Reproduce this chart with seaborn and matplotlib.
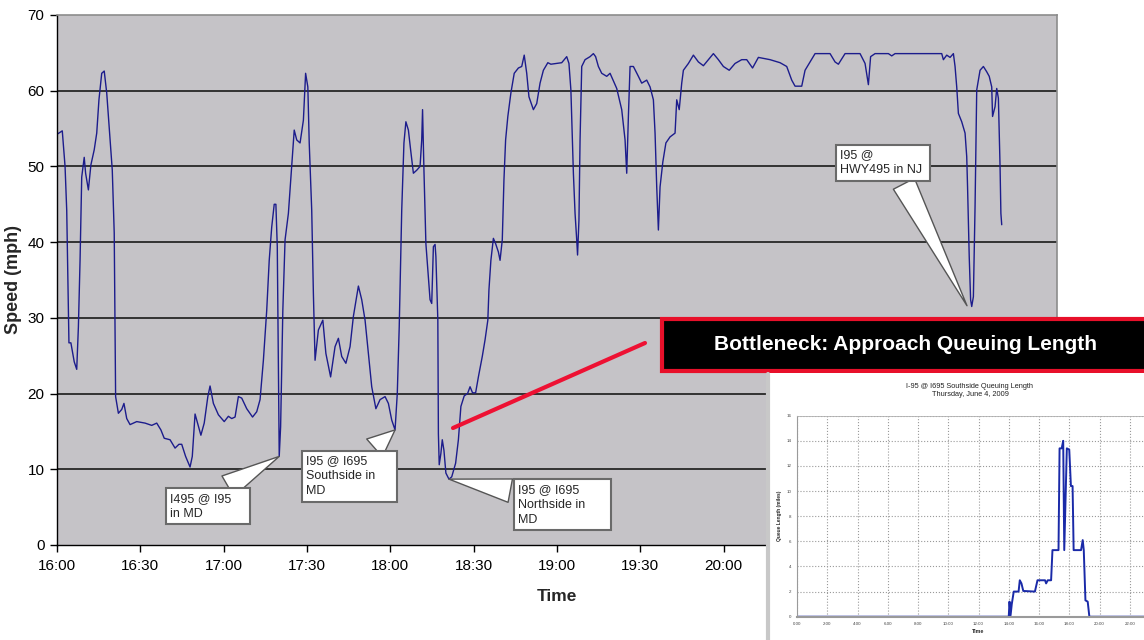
import matplotlib
matplotlib.use("Agg")
import matplotlib.pyplot as plt
import numpy as np
import pandas as pd
import seaborn as sns
from matplotlib.patches import Rectangle
from matplotlib.lines import Line2D

sns.set_theme(style="white")
plt.rcParams['font.family'] = ['Liberation Sans', 'DejaVu Sans']

# speed trace, minutes after 16:00
minutes = [0.25, 1.9, 2.9, 3.5, 4.1, 4.3, 5.0, 6.2, 7.1, 7.7, 8.3, 8.9, 9.8, 10.3, 11.3, 12.2,
           13.4, 14.3, 15.1, 16.1, 17.0, 17.9, 19.1, 19.9, 20.6, 20.9, 21.1, 22.1, 23.3, 24.1,
           25.1, 26.3, 28.7, 31.7, 34.1, 35.9, 37.4, 38.6, 40.7, 42.5, 43.9, 44.9, 46.3, 47.9,
           48.7, 49.7, 50.6, 51.8, 53.0, 54.3, 55.1, 56.3, 58.1, 60.2, 61.7, 62.9, 64.1, 65.3,
           66.5, 68.3, 70.4, 71.9, 73.1, 74.3, 75.5, 76.4, 77.3, 78.2, 78.8, 79.3, 79.7, 80.0,
           80.5, 81.3, 82.1, 83.3, 84.5, 85.4, 86.3, 87.5, 88.7, 89.5, 90.3, 90.8, 91.7, 92.3,
           92.9, 94.1, 95.7, 96.8, 98.5, 100.1, 101.3, 102.5, 104.0, 105.5, 106.7, 108.5, 109.7,
           110.9, 112.1, 113.3, 114.8, 116.3, 118.1, 119.3, 120.5, 121.7, 122.5, 123.2, 124.1,
           124.9, 125.6, 126.5, 127.3, 128.3, 129.5, 130.7, 131.3, 131.6, 132.1, 132.8, 133.7,
           134.3, 134.9, 135.5, 136.1, 136.4, 137.1, 137.3, 137.6, 138.2, 138.7, 139.3, 140.0,
           141.1, 142.1, 143.5, 144.5, 145.4, 146.6, 147.8, 148.7, 149.6, 150.7, 151.7, 153.1,
           154.1, 155.1, 155.5, 156.2, 157.1, 157.9, 158.9, 159.5, 160.3, 160.9, 161.5, 162.3,
           163.4, 164.6, 166.1, 167.3, 168.2, 169.1, 169.9, 171.5, 172.7, 173.9, 175.1, 176.7,
           177.8, 179.9, 181.7, 183.5, 184.3, 185.0, 185.9, 186.5, 187.1, 187.4, 187.9, 188.3,
           188.9, 190.1, 191.9, 193.1, 193.9, 194.9, 196.1, 197.9, 199.1, 201.5, 203.3, 204.5,
           205.1, 205.7, 206.3, 207.5, 209.3, 210.5, 212.3, 213.5, 214.7, 215.3, 215.9, 216.5,
           217.1, 218.1, 219.2, 220.7, 222.5, 223.1, 224.0, 224.9, 225.5, 227.3, 229.1, 230.9,
           232.7, 234.5, 236.3, 238.1, 239.9, 242.0, 244.1, 246.5, 248.3, 250.4, 252.5, 256.7,
           260.3, 262.7, 264.5, 265.7, 268.1, 269.3, 271.1, 272.9, 278.3, 280.1, 281.3, 283.7,
           289.1, 290.9, 292.1, 292.9, 294.5, 299.3, 300.5, 301.7, 318.5, 319.1, 320.3, 321.5,
           322.7, 323.3, 323.9, 324.5, 325.7, 326.9, 327.5, 327.8, 328.4, 328.9, 329.3, 329.9,
           330.5, 331.1, 332.3, 333.5, 334.7, 335.6, 336.5, 336.8, 337.7, 338.3, 338.9, 339.5,
           339.8, 340.1]
speed = [54.3, 54.7, 50.0, 44.2, 31.7, 26.7, 26.7, 24.2, 23.2, 28.8, 37.6, 48.6, 51.2, 49.1, 46.9, 50.2,
         52.2, 54.4, 58.8, 62.3, 62.6, 59.7, 53.5, 49.5, 41.2, 28.0, 19.6, 17.4, 17.9, 18.7,
         16.7, 15.9, 16.3, 16.1, 15.8, 16.1, 15.2, 14.1, 13.9, 12.8, 13.3, 13.3, 11.7, 10.3,
         11.7, 17.3, 16.1, 14.5, 16.1, 19.6, 21.0, 18.7, 17.2, 16.3, 17.0, 16.7, 16.9, 19.6,
         19.4, 18.0, 16.9, 17.6, 19.2, 24.4, 31.0, 37.6, 42.0, 45.0, 45.0, 39.4, 24.4, 11.7,
         15.6, 31.0, 40.3, 43.8, 50.0, 54.8, 53.5, 53.1, 56.1, 62.3, 60.5, 53.1, 44.2, 33.2,
         24.4, 28.4, 29.7, 25.3, 22.2, 26.2, 27.3, 24.9, 24.0, 26.2, 30.2, 34.2, 32.4,
         29.7, 25.3, 20.9, 18.0, 19.2, 19.6, 18.7, 16.5, 15.2, 20.0, 28.8, 44.2,
         53.1, 55.9, 54.8, 52.2, 49.1, 49.5, 50.0, 53.5, 57.5, 49.5, 39.8, 35.4,
         32.4, 31.9, 39.4, 39.7, 38.1, 29.7, 14.7, 10.6, 12.1, 13.9, 12.5, 9.5,
         8.7, 9.0, 10.8, 13.9, 18.3, 19.7, 20.0, 20.9, 20.1, 20.1, 22.2, 24.9,
         27.1, 29.7, 33.7, 37.6, 40.5, 39.8, 38.7, 37.6, 40.3, 48.2, 53.5, 56.6,
         59.7, 62.3, 63.0, 63.2, 64.7, 62.3, 59.2, 57.5, 58.3, 61.0, 62.7, 63.7,
         63.5, 63.6, 63.7, 64.5, 63.6, 60.1, 49.1, 43.8, 40.3, 38.3, 42.9, 53.5,
         63.2, 64.1, 64.5, 64.9, 64.5, 63.2, 62.3, 61.9, 62.3, 60.3, 57.5, 53.5,
         49.1, 56.6, 63.2, 63.2, 61.9, 61.0, 61.4, 60.5, 58.8, 54.4, 47.3, 41.6,
         47.3, 50.6, 53.1, 53.9, 54.4, 58.8, 57.5, 61.0, 62.7, 63.6, 64.7, 63.8,
         63.3, 64.1, 64.9, 64.1, 63.2, 62.7, 63.6, 64.1, 64.1, 63.0, 64.4, 64.1,
         63.7, 63.2, 61.4, 60.6, 60.6, 62.7, 63.8, 64.9, 64.9, 63.8, 63.5, 64.9,
         64.9, 63.6, 60.8, 64.5, 64.9, 64.9, 64.6, 64.9, 64.9, 64.1, 64.7, 64.4,
         64.9, 63.2, 60.5, 57.0, 55.9, 54.4, 51.3, 47.3, 38.1, 32.4, 31.5, 32.8,
         44.7, 60.1, 62.7, 63.2, 62.5, 61.9, 60.5, 56.6, 57.9, 60.3, 59.0, 50.0,
         43.8, 42.3]

# only the ticks left of the inset are visible
tick_minutes = list(range(0, 241, 30))
tick_labels = [f"{16 + t // 60}:{t % 60:02d}" for t in tick_minutes]

# callouts: text, text position (minutes, mph), target point, wedge start on box
callout_text = ["I495 @ I95    \nin MD", "I95 @ I695\nSouthside in     \nMD",
                "I95 @ I695\nNorthside in      \nMD", "I95 @\nHWY495 in NJ "]
callout_xy_text = [(40.7, 6.9), (89.6, 11.9), (166.0, 8.1), (281.9, 52.3)]
callout_target = [(80.0, 11.7), (121.7, 15.2), (141.1, 8.7), (327.6, 31.6)]
callout_relpos = [(0.62, 1.0), (0.7, 1.0), (0.0, 0.8), (0.7, 0.0)]

# inset: queue length (miles) over the day (hours)
queue_hours = [0, 14.0, 14.05, 14.12, 14.2, 14.33, 14.65, 14.73, 14.84, 14.96, 15.73, 15.9,
               16.4, 16.47, 16.58, 16.8, 16.89, 17.29, 17.36, 17.5, 17.6, 17.67, 17.84, 18.0,
               18.11, 18.22, 18.29, 18.78, 18.89, 18.96, 19.07, 19.22, 19.33, 24]
queue_miles = [0, 0, 1.2, 0.1, 1.0, 2.0, 2.0, 2.9, 2.65, 2.05, 2.0, 2.9,
               2.9, 2.65, 2.9, 2.9, 5.3, 5.3, 13.4, 13.4, 14.0, 5.3, 13.4, 13.3,
               10.4, 10.4, 5.3, 5.3, 6.1, 5.3, 1.3, 1.2, 0, 0]
inset_ticks = list(range(0, 23, 2))
inset_labels = [f"{h}:00" for h in inset_ticks]

W, H = 1144, 640
fig = plt.figure(figsize=(W / 100, H / 100), dpi=100)
fig.patch.set_facecolor("white")

# ---- main speed chart ----
ax = fig.add_axes([57 / W, 1 - 545 / H, 1000 / W, 530 / H])
ax.set_facecolor("#c5c3c7")
sns.lineplot(x=minutes, y=speed, ax=ax, color="#1c1c8c", linewidth=1.0,
             estimator=None, sort=False)
ax.set_xlim(0, 360)
ax.set_ylim(0, 70)
ax.set_yticks(range(0, 71, 10))
ax.set_xticks(tick_minutes)
ax.set_xticklabels(tick_labels)
for yv in range(10, 70, 10):
    ax.axhline(yv, color="#1a1a1a", lw=1.2, zorder=1)
ax.tick_params(axis="both", labelsize=11, colors="black", length=5, width=1,
               direction="out", bottom=True, left=True)
ax.tick_params(axis="x", pad=5)
ax.tick_params(axis="y", pad=4)
for side in ["left", "bottom"]:
    ax.spines[side].set_color("black")
    ax.spines[side].set_linewidth(1)
for side in ["top", "right"]:
    ax.spines[side].set_color("#8c8c8c")
    ax.spines[side].set_linewidth(1.2)
ax.set_xlabel("Time", fontsize=12.5, fontweight="bold")
ax.set_ylabel("Speed (mph)", fontsize=13, fontweight="bold")
ax.xaxis.set_label_coords(0.5, -0.083)
ax.yaxis.set_label_coords(-0.035, 0.5)

for txt, xyt, tgt, rp in zip(callout_text, callout_xy_text, callout_target, callout_relpos):
    ax.annotate(txt, xy=tgt, xytext=xyt, ha="left", va="top", fontsize=9,
                linespacing=1.35, zorder=6,
                bbox=dict(boxstyle="square,pad=0.35", fc="white", ec="#6a6a6a", lw=1.5),
                arrowprops=dict(arrowstyle="wedge,tail_width=1.9", fc="white", ec="#555555",
                                lw=1, relpos=rp, shrinkB=0))

# ---- red pointer and title banner ----
fig.add_artist(Line2D([453 / W, 645 / W], [1 - 428 / H, 1 - 343 / H],
                      color="#ee1133", lw=3, zorder=3))
fig.add_artist(Rectangle((662 / W, 1 - 371 / H), 600 / W, 52 / H, facecolor="black",
                         edgecolor="#e8102a", lw=3, zorder=3))
fig.text(905 / W, 1 - 344 / H, "Bottleneck: Approach Queuing Length", color="white",
         fontsize=15, fontweight="bold", ha="center", va="center", zorder=4)

# ---- inset queue chart ----
fig.add_artist(Rectangle((767 / W, 0), 400 / W, 1 - 373 / H, facecolor="white",
                         edgecolor="none", zorder=4))
fig.add_artist(Line2D([768 / W, 768 / W], [0, 1 - 374 / H], color="#c8c8c8", lw=3, zorder=4))
iax = fig.add_axes([797 / W, 1 - 616.7 / H, 363 / W, 201 / H], zorder=5)
iax.set_facecolor("white")
sns.lineplot(x=queue_hours, y=queue_miles, ax=iax, color="#1a2aa8", linewidth=1.4,
             estimator=None, sort=False)
iax.set_xlim(0, 24)
iax.set_ylim(0, 16)
iax.set_xticks(inset_ticks)
iax.set_xticklabels(inset_labels)
iax.set_yticks(range(0, 17, 2))
iax.grid(True, color="#9a9a9a", linestyle=":", linewidth=0.8)
iax.tick_params(labelsize=3.2, colors="#444444", length=2, width=0.5, pad=2)
for side in ["left", "bottom"]:
    iax.spines[side].set_color("#9a9a9a")
iax.spines["bottom"].set_linewidth(1.5)
iax.spines["left"].set_linewidth(0.8)
iax.spines["top"].set_color("#b0b0b0")
iax.spines["top"].set_linewidth(0.6)
iax.spines["right"].set_visible(False)
iax.set_xlabel("Time", fontsize=3.8, fontweight="bold", labelpad=2)
iax.set_ylabel("Queue Length (miles)", fontsize=3.5, fontweight="bold", labelpad=3)
fig.text(970 / W, 1 - 390 / H, "I-95 @ I695 Southside Queuing Length\nThursday, June 4, 2009",
         fontsize=5.3, ha="center", va="center", color="#222222", zorder=6)

fig.savefig("out.png", dpi=100)
